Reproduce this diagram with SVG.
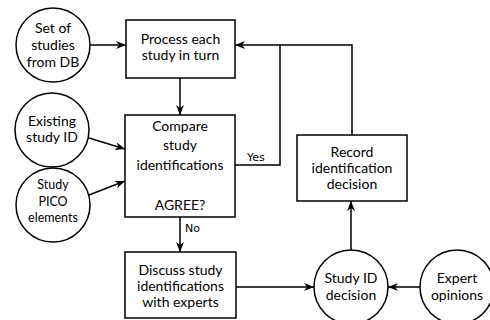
<svg xmlns="http://www.w3.org/2000/svg" width="490" height="320" viewBox="0 0 490 320">
<defs>
<marker id="ah" markerUnits="userSpaceOnUse" markerWidth="11" markerHeight="9" refX="10" refY="4" orient="auto">
<path d="M0,0 L10,4 L0,8 L3,4 z" fill="#000"/>
</marker>
<style>
.shape{fill:#fff;stroke:#000;stroke-width:1.5}
.t{font-family:Lato,"Open Sans",sans-serif;font-size:14px;text-anchor:middle;fill:#000}
.s{font-family:Lato,"Open Sans",sans-serif;font-size:12.5px;text-anchor:middle;fill:#000}
.lbl{font-family:"DejaVu Sans",sans-serif;font-size:11px;fill:#000}
.e{fill:none;stroke:#000;stroke-width:1.5}
.a{marker-end:url(#ah)}
</style>
</defs>
<rect width="490" height="320" fill="#fff"/>
<g id="connectors">
<line class="e a" x1="90" y1="45" x2="126" y2="45"/>
<line class="e a" x1="180" y1="78" x2="180" y2="115"/>
<line class="e a" x1="89" y1="138" x2="125" y2="149"/>
<line class="e a" x1="89" y1="195" x2="125" y2="181"/>
<line class="e a" x1="180" y1="217" x2="180" y2="252"/>
<polyline class="e a" points="235,165 280,165 280,45 235,45"/>
<polyline class="e" points="352,135 352,45 280,45"/>
<line class="e a" x1="236" y1="287" x2="314" y2="287"/>
<line class="e a" x1="420" y1="287" x2="388" y2="287"/>
<line class="e a" x1="351" y1="250" x2="351" y2="201"/>
<text class="lbl" x="247" y="161">Yes</text>
<text class="lbl" x="185" y="232">No</text>
</g>
<g id="set">
<circle class="shape" cx="53" cy="45" r="37"/>
<text class="t" x="53" y="33">Set of</text>
<text class="t" x="53" y="50">studies</text>
<text class="t" x="53" y="67">from DB</text>
</g>
<g id="process">
<rect class="shape" x="126" y="20" width="109" height="58"/>
<text class="t" x="180.5" y="44">Process each</text>
<text class="t" x="180.5" y="60">study in turn</text>
</g>
<g id="existing">
<circle class="shape" cx="52" cy="130" r="37"/>
<text class="t" x="52" y="126">Existing</text>
<text class="t" x="52" y="142">study ID</text>
</g>
<g id="pico">
<circle class="shape" cx="53" cy="205" r="37"/>
<text class="s" x="53" y="189">Study</text>
<text class="s" x="53" y="206">PICO</text>
<text class="s" x="53" y="222">elements</text>
</g>
<g id="compare">
<rect class="shape" x="125" y="115" width="110" height="102"/>
<text class="t" x="180" y="131">Compare</text>
<text class="t" x="180" y="150">study</text>
<text class="t" x="180" y="170">identifications</text>
<text class="t" x="180" y="210">AGREE?</text>
</g>
<g id="discuss">
<rect class="shape" x="125" y="252" width="111" height="66"/>
<text class="t" x="180.5" y="275">Discuss study</text>
<text class="t" x="180.5" y="291">identifications</text>
<text class="t" x="180.5" y="307">with experts</text>
</g>
<g id="record">
<rect class="shape" x="297" y="135" width="110" height="66"/>
<text class="t" x="352" y="157">Record</text>
<text class="t" x="352" y="173">identification</text>
<text class="t" x="352" y="189">decision</text>
</g>
<g id="decision">
<circle class="shape" cx="351" cy="287" r="37"/>
<text class="t" x="351" y="283">Study ID</text>
<text class="t" x="351" y="300">decision</text>
</g>
<g id="expert">
<circle class="shape" cx="457" cy="287" r="37"/>
<text class="t" x="457" y="283">Expert</text>
<text class="t" x="457" y="300">opinions</text>
</g>
</svg>
